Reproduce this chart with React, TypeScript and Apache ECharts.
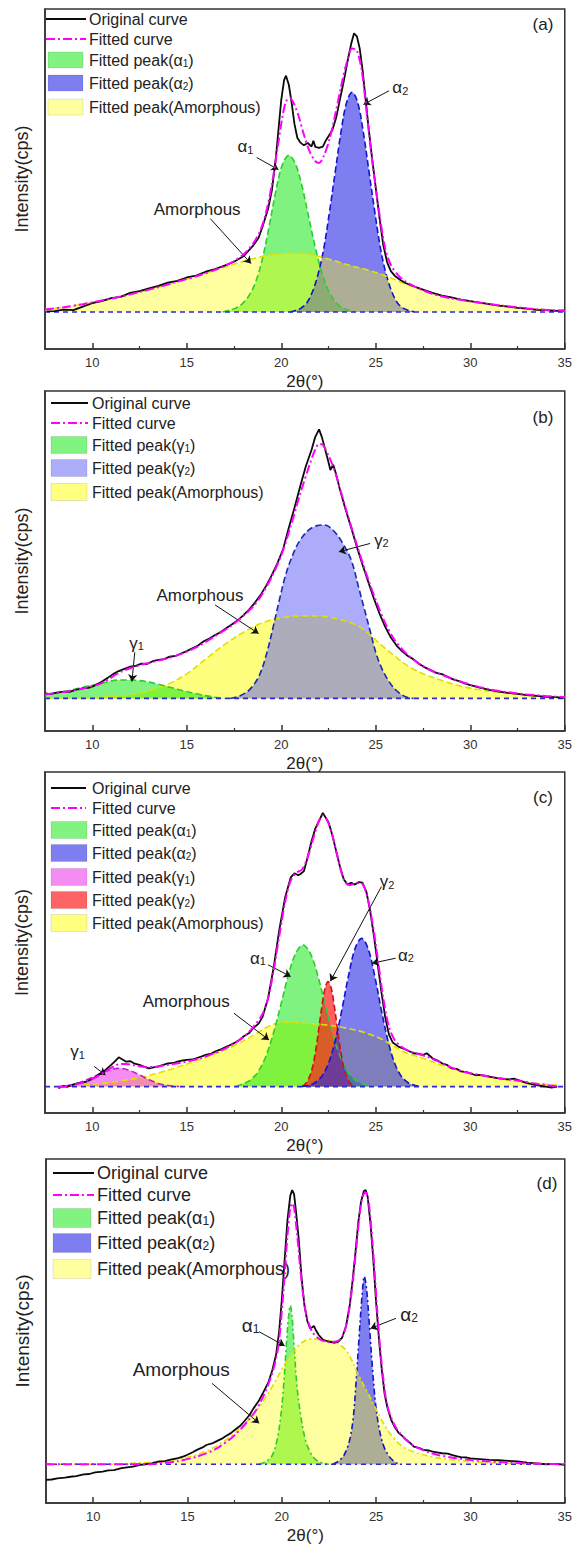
import React, { useEffect, useRef } from 'react';
import * as echarts from 'echarts';

type P = [number, number];

const xTicks = [10, 15, 20, 25, 30, 35];
const xMinorTicks = [12.5, 17.5, 22.5, 27.5, 32.5];
const baseline: P[] = [[7.5, 0], [35, 0]];

// ---------- Panel (a) ----------
const aOriginal: P[] = [[7.6,0.2],[8,0.3],[8.5,0.8],[9,0.6],[9.5,1.8],[10,2.9],[10.5,3.6],[11,4.6],[11.5,5],[12,6.3],[12.5,6.9],[13,7.8],[13.5,8.6],[14,9.7],[14.5,10.3],[15,11.4],[15.5,12],[16,13.3],[16.5,14.2],[17,15.3],[17.5,16.6],[18,18.4],[18.5,21.8],[18.8,24.5],[19,28],[19.3,34],[19.5,40],[19.7,50],[19.85,60],[20,70],[20.15,76.5],[20.25,78],[20.4,75],[20.55,69],[20.7,62],[20.85,57.5],[21,56],[21.2,55],[21.4,55.8],[21.6,54.6],[21.7,56.5],[21.8,54.5],[22,54.2],[22.2,54.6],[22.35,56.5],[22.5,58],[22.7,60],[22.9,64],[23.1,70],[23.3,76],[23.5,82.5],[23.7,88.5],[23.85,92],[24,91],[24.15,87],[24.3,80],[24.45,71],[24.6,62],[24.8,51],[25,41],[25.2,31],[25.4,22],[25.6,16.5],[25.8,13.5],[26,12],[26.3,10.6],[26.6,9.5],[27,8.5],[27.5,7.4],[28,6.3],[28.5,5.4],[29,4.8],[29.5,4.1],[30,3.6],[30.5,3.1],[31,2.6],[31.5,2.1],[32,1.8],[32.5,1.4],[33,1.1],[33.5,0.7],[34,0.6],[34.5,0.4],[35,0.5]];
const aFitted: P[] = [[7.5,0.8],[8.5,1.6],[9.5,2.6],[10.5,3.8],[11.5,5.1],[12.5,6.6],[13.5,8.2],[14.5,10],[15.5,11.8],[16.5,13.9],[17.5,16.8],[18,19],[18.5,22.5],[18.9,27],[19.2,33],[19.5,42],[19.8,54],[20.05,64],[20.25,69.5],[20.45,70.6],[20.65,69],[20.9,65],[21.2,58.5],[21.5,53],[21.8,49.8],[22,49.2],[22.25,51.5],[22.55,57],[22.85,65],[23.15,74],[23.45,82],[23.75,87],[24,86.2],[24.25,80],[24.5,67],[24.75,53],[25,41],[25.25,30],[25.5,21],[25.8,15.5],[26.2,12],[26.6,10],[27.2,8],[28,6],[29,4.5],[30,3.5],[31,2.6],[32,1.9],[33,1.2],[34,0.7],[35,0.4]];
const aAlpha1: P[] = [[16.9,0],[17.25,0.6],[17.6,1.3],[17.95,2.8],[18.3,5.5],[18.65,10],[19,17.5],[19.35,28],[19.7,39.5],[20.05,48.5],[20.4,51.7],[20.75,48.9],[21.1,41.5],[21.45,31.4],[21.8,21.3],[22.15,12.9],[22.5,7],[22.85,3.4],[23.2,1.5],[23.55,0.6],[23.9,0]];
const aAlpha2: P[] = [[20.45,0],[20.75,0.5],[21.05,1.3],[21.35,3],[21.65,6.7],[21.95,12.5],[22.25,21],[22.55,33],[22.85,46],[23.15,59],[23.45,69],[23.75,72.5],[24.05,69],[24.35,59],[24.65,46],[24.95,33],[25.25,21],[25.55,12.5],[25.85,6.7],[26.15,3],[26.45,1.3],[26.75,0.5],[27.05,0]];
const aAmorphous: P[] = [[7.5,0.8],[8.5,1.6],[9.5,2.6],[10.5,3.8],[11.5,5.1],[12.5,6.6],[13.5,8.2],[14.5,10],[15.5,11.8],[16.5,13.8],[17.5,15.8],[18.5,17.6],[19.5,18.9],[20.5,19.4],[21.5,19],[22.5,17.5],[23.5,15.6],[24.5,14],[25.5,12],[26.5,9.4],[27.5,7.2],[28.5,5.4],[29.5,4.1],[30.5,3.1],[31.5,2.3],[32.5,1.6],[33.5,1],[34.5,0.6],[35,0.4]];
const aArrows = [[18.7,51,19.85,47],[25.7,73,24.35,68.5],[16.25,30.8,18.4,16]];
const aNotes: [string, number, number][] = [['α{s|1}',18.1,54.5],['α{s|2}',26.3,74],['Amorphous',15.55,34]];

// ---------- Panel (b) ----------
const bOriginal: P[] = [[7.5,1.6],[7.8,1.4],[8.1,1.9],[8.5,2.2],[8.8,2.1],[9.1,2.8],[9.5,3.3],[9.8,3.4],[10.1,4.1],[10.5,5.4],[10.8,6.6],[11.1,7.9],[11.4,8.9],[11.7,9.6],[12,10.3],[12.3,10.6],[12.6,11.3],[12.9,11.2],[13.2,12.1],[13.5,12.5],[13.8,12.8],[14.1,13.6],[14.4,13.8],[14.7,14.6],[15,15.4],[15.3,16.3],[15.6,17.2],[15.9,18.6],[16.2,19.5],[16.5,20.6],[16.8,21.6],[17.1,22.9],[17.4,24.1],[17.7,25.4],[18,27.1],[18.3,28.9],[18.6,31.1],[18.9,33.6],[19.2,36.6],[19.5,40.1],[19.8,44],[20.1,48.6],[20.4,55.5],[20.7,62],[21,68.9],[21.3,75.5],[21.6,80.8],[21.8,85.1],[22,87.5],[22.15,85],[22.3,81.5],[22.45,78],[22.6,74.3],[22.75,76],[22.9,73],[23.1,68],[23.4,61.5],[23.7,55.5],[24,49.3],[24.3,43.5],[24.6,38],[24.9,32.5],[25.2,27.6],[25.5,23.3],[25.8,19.8],[26.1,17.2],[26.4,15.3],[26.7,13.8],[27,12.7],[27.3,11.2],[27.6,10.1],[27.9,9.2],[28.2,8.3],[28.5,7.9],[28.8,7],[29.1,6.2],[29.4,5.6],[29.7,4.9],[30,4.3],[30.5,3.5],[31,2.8],[31.5,2.2],[32,1.8],[32.5,1.5],[33,1.1],[33.5,0.8],[34,0.5],[34.5,0.4],[35,0.2]];
const bFitted: P[] = [[7.5,1.3],[8.5,2.1],[9.5,3.2],[10.5,5],[11.5,8.6],[12.5,10.8],[13.5,12.3],[14.5,14],[15.5,16.6],[16.5,20.3],[17.5,24.3],[18.5,29.8],[19,34],[19.5,39.6],[20,46.5],[20.5,56],[21,66.5],[21.5,76],[21.8,81],[22,82.8],[22.2,82.5],[22.5,79],[22.8,74.5],[23,70.5],[23.5,60],[24,50],[24.5,40.5],[25,32],[25.5,24.5],[26,19],[26.5,15.3],[27,12.6],[27.5,10.5],[28,8.9],[29,6.5],[30,4.5],[31,3],[32,2],[33,1.3],[34,0.8],[35,0.4]];
const bGamma1: P[] = [[7.5,1.2],[8.5,2.2],[9.5,3.6],[10.5,5],[11.5,6],[12.5,5.8],[13.5,4.6],[14.5,3],[15.5,1.5],[16.5,0.4],[17,0]];
const bGamma2: P[] = [[17.3,0],[17.8,0.8],[18.3,2.7],[18.8,7],[19.2,14],[19.6,24],[19.9,32],[20.2,39.5],[20.5,45],[20.9,50.5],[21.4,54.5],[21.9,56.2],[22.3,56.4],[22.7,55],[23.2,51],[23.7,45],[24.1,36],[24.4,29],[24.7,22],[25,15],[25.3,10],[25.7,5.5],[26.1,2.5],[26.6,0.5],[27,0]];
const bAmorphous: P[] = [[7.5,0],[10,0.3],[11,0.6],[12,1.2],[13,2.5],[14,4.6],[15,8],[16,12.8],[17,17.5],[18,21.5],[19,24.6],[20,26.2],[21,26.8],[22,26.8],[23,25.8],[24,23.8],[24.5,21.7],[25,19],[25.5,16.3],[26,13.8],[26.5,11.4],[27,9.5],[27.5,8],[28.5,5.8],[29.5,4],[30.5,2.8],[31.5,2],[32.5,1.4],[33.5,0.9],[35,0.3]];
const bArrows = [[12.25,15,12.1,5.5],[24.7,50.4,23.05,47.7],[16.5,30.4,18.8,21.1]];
const bNotes: [string, number, number][] = [['γ{s|1}',12.35,18],['γ{s|2}',25.3,51.5],['Amorphous',15.7,33.6]];

// ---------- Panel (c) ----------
const cOriginal: P[] = [[8.2,-0.5],[8.5,0.2],[8.7,0],[9,0.6],[9.2,1],[9.5,1.3],[9.7,1.6],[10,2.4],[10.2,3.2],[10.5,4.4],[10.7,5.3],[11,6.9],[11.2,8],[11.4,9.3],[11.6,8.6],[11.8,7.9],[12,8.1],[12.2,7.4],[12.5,6.9],[12.8,6.2],[13,5.8],[13.3,6.2],[13.5,6.4],[13.8,7],[14,7.4],[14.3,7.5],[14.5,7.9],[14.8,8.3],[15,8.5],[15.3,8.6],[15.5,9],[15.8,9.6],[16,10.1],[16.3,10.5],[16.5,11.1],[16.8,11.8],[17,12.4],[17.3,13.2],[17.5,13.8],[17.8,14.9],[18,15.9],[18.3,17],[18.5,18.5],[18.8,20],[19,22],[19.3,28],[19.6,38],[19.9,50],[20.2,60],[20.5,66.5],[20.7,67.8],[20.9,67.2],[21,67.5],[21.2,68.5],[21.4,73],[21.6,78],[21.8,82],[22,84.5],[22.2,87],[22.35,85.5],[22.5,84],[22.7,80],[22.9,75],[23.1,70],[23.3,66],[23.5,64.2],[23.7,64.8],[23.9,64.2],[24.1,65],[24.3,64.8],[24.5,62],[24.7,56],[24.9,48],[25.1,39],[25.3,30],[25.5,22],[25.7,16.5],[25.9,14],[26.2,12.7],[26.6,11.7],[27,10.6],[27.3,10.4],[27.5,10.1],[27.7,10.6],[28,9],[28.3,8.2],[28.5,7.4],[28.8,6.8],[29,5.8],[29.3,5.6],[29.5,4.8],[29.8,4.6],[30,4.2],[30.3,3.6],[30.5,3.7],[31,3.2],[31.5,2.6],[32,2.3],[32.3,2.5],[32.5,2.1],[33,1.1],[33.5,0.5],[34,0],[34.3,-0.3],[34.6,0]];
const cFitted: P[] = [[8.2,-0.3],[8.7,0.2],[9.2,0.8],[9.7,1.7],[10.2,3],[10.7,4.8],[11.2,6.6],[11.5,7.2],[11.8,7.2],[12.2,6.8],[12.7,6.3],[13.2,6.2],[13.7,6.6],[14.2,7.1],[14.7,7.6],[15.2,8.2],[15.7,9],[16.2,10],[16.7,11.2],[17.2,12.6],[17.7,14.4],[18.2,16.8],[18.6,19.5],[19,23],[19.3,28],[19.6,37],[19.9,48],[20.2,58.5],[20.5,65.5],[20.8,68],[21.1,69],[21.4,73],[21.7,79],[22,84.5],[22.2,86.2],[22.4,85],[22.7,80],[23,72.5],[23.3,66],[23.6,64],[23.9,64.5],[24.2,64.8],[24.5,61.5],[24.8,53],[25.1,41],[25.4,28],[25.7,19],[26,14.8],[26.4,12.5],[26.8,11.2],[27.3,10.3],[27.8,9.3],[28.3,8],[28.8,6.6],[29.3,5.4],[29.8,4.5],[30.5,3.7],[31.5,2.7],[32.5,1.9],[33.5,0.9],[34.6,0.1]];
const cAlpha1: P[] = [[17.6,0],[17.95,0.8],[18.35,2],[18.75,4.5],[19.15,9.1],[19.55,16.2],[19.95,25.3],[20.35,34.9],[20.75,42.2],[21.15,45],[21.55,42.2],[21.95,34.9],[22.35,25.3],[22.75,16.2],[23.15,9.1],[23.55,4.5],[23.95,2],[24.35,0.8],[24.7,0]];
const cAlpha2: P[] = [[21.1,0],[21.45,0.4],[21.8,1.3],[22.15,3.3],[22.5,7.4],[22.85,14.5],[23.2,24.2],[23.55,35],[23.9,43.8],[24.25,47.1],[24.6,43.8],[24.95,35],[25.3,24.2],[25.65,14.5],[26,7.4],[26.35,3.3],[26.7,1.3],[27.05,0.4],[27.4,0]];
const cGamma1: P[] = [[8.2,0],[8.6,0.3],[9.2,1],[9.8,2.4],[10.4,4],[10.9,5.3],[11.4,5.8],[11.9,5.3],[12.4,4],[13,2.2],[13.6,0.8],[14.2,0.2],[14.6,0]];
const cGamma2: P[] = [[21.1,0],[21.28,0.9],[21.43,2.2],[21.58,4.5],[21.73,8.3],[21.88,13.7],[22.03,20.3],[22.18,26.7],[22.33,31.6],[22.48,33.4],[22.63,31.6],[22.78,26.7],[22.93,20.3],[23.08,13.7],[23.23,8.3],[23.38,4.5],[23.53,2.2],[23.68,0.9],[23.9,0]];
const cAmorphous: P[] = [[8.5,0],[9.5,0.5],[10.5,1],[11.5,1.8],[12.5,2.8],[13.5,4.3],[14.5,6.2],[15.5,8.2],[16.5,10.4],[17.5,13],[18.5,16.2],[19.3,19],[19.9,20.3],[20.5,20.4],[21.5,20],[22.5,19.5],[23.5,18.5],[24.5,17],[25.5,14.5],[26.5,11],[27.5,9],[28.5,6.8],[29.5,5],[30.5,3.6],[31.5,2.5],[32.5,1.7],[33.5,1],[34.6,0.4]];
const cArrows = [[10.1,6.4,10.7,3.7],[19.3,38.7,20.5,35],[25.3,63.6,22.6,33.5],[26.05,40.8,24.8,39.2],[17.5,23.3,19.35,14.8]];
const cNotes: [string, number, number][] = [['γ{s|1}',9.22,11.1],['α{s|1}',18.77,40.8],['γ{s|2}',25.6,65.1],['α{s|2}',26.6,41.8],['Amorphous',14.97,27]];

// ---------- Panel (d) ----------
const dOriginal: P[] = [[7.5,-5.1],[7.8,-5],[8.1,-4.6],[8.5,-4.4],[8.8,-4.1],[9.1,-3.9],[9.5,-3.3],[9.8,-3.2],[10.1,-2.7],[10.5,-2.4],[10.8,-2],[11.1,-1.9],[11.5,-1.3],[11.8,-1],[12.1,-0.8],[12.5,-0.2],[12.8,0],[13.1,0.3],[13.5,0.9],[13.8,1],[14.1,1.5],[14.5,2],[14.8,2.6],[15,3.1],[15.3,4],[15.5,4.7],[15.8,5.5],[16,6.3],[16.3,6.8],[16.5,7.4],[16.8,8.3],[17,9.1],[17.3,10.2],[17.5,11.2],[17.8,12.6],[18,14],[18.3,16.2],[18.5,18.3],[18.8,21],[19,23.3],[19.3,27],[19.5,30.9],[19.7,36],[19.85,43],[20,53.8],[20.15,67],[20.3,80],[20.45,88],[20.55,89.8],[20.65,88.5],[20.75,83],[20.9,73.5],[21.05,61],[21.2,52],[21.35,47],[21.5,44.5],[21.6,44.8],[21.7,45.3],[21.8,44],[21.95,42.4],[22.2,40.7],[22.5,40.2],[22.8,39.8],[23,40.2],[23.2,41.5],[23.4,45.1],[23.6,52],[23.75,60],[23.9,69.1],[24.05,79],[24.2,86],[24.35,89.5],[24.45,89.8],[24.55,87.7],[24.7,78.9],[24.85,67],[25,53],[25.15,41],[25.3,30.9],[25.45,23],[25.6,18.5],[25.8,14.5],[26,12],[26.2,10.2],[26.4,9.2],[26.6,8],[26.8,7],[27,5.8],[27.3,5.3],[27.5,4.7],[27.8,4.5],[28,4.1],[28.3,3.8],[28.5,3.6],[28.8,3.5],[29,3.1],[29.3,2.6],[29.5,2.3],[29.8,2.2],[30,1.9],[30.5,1.7],[31,1.4],[31.5,1.3],[32,1.1],[32.5,0.9],[33,0.5],[33.5,0.3],[34,0],[34.5,0.1],[35,-0.2]];
const dFitted: P[] = [[7.5,0],[13,0],[13.5,0.3],[14.5,1],[15.5,2.5],[16.5,5],[17.5,9.5],[18.5,16.5],[19,22],[19.5,30],[19.8,38],[20,50],[20.15,62],[20.3,75],[20.45,84],[20.55,85.5],[20.65,84],[20.8,76],[20.95,66],[21.1,57],[21.3,49],[21.6,43.5],[22,41],[22.5,40],[23,40.5],[23.3,43],[23.55,50],[23.75,59],[23.95,71],[24.15,83],[24.3,88],[24.45,89],[24.6,86],[24.75,77],[24.9,65],[25.05,51],[25.2,39],[25.4,27],[25.6,19],[26,12.5],[26.5,8.5],[27,6],[28,3.5],[29,2.2],[30,1.4],[31,0.9],[32,0.6],[33,0.3],[34,0.1],[35,0]];
const dAlpha1: P[] = [[18.8,0],[19.2,1],[19.5,3],[19.75,8],[19.95,16],[20.1,26],[20.25,40],[20.35,48],[20.45,52],[20.55,48],[20.65,39],[20.8,26],[21,16],[21.25,8],[21.5,4],[21.8,1.5],[22.2,0.3],[22.5,0]];
const dAlpha2: P[] = [[22.7,0],[23,1],[23.3,3],[23.6,8],[23.8,16],[23.95,28],[24.1,42],[24.25,55],[24.37,61.5],[24.5,57],[24.65,45],[24.8,32],[24.95,21],[25.15,12],[25.4,6],[25.7,2.5],[26.05,0.5],[26.3,0]];
const dAmorphous: P[] = [[7.5,0],[11,0],[12,0.3],[13,0.6],[14,1.2],[15,2.3],[16,4.3],[17,7.8],[18,13],[18.5,16.5],[19,20.5],[19.5,25.5],[20,31],[20.5,36],[21,39.5],[21.5,41],[22,41],[22.5,40.5],[23,39.5],[23.5,36.5],[24,30],[24.5,24],[25,18],[25.5,12.2],[26,8],[26.5,5.4],[27,4],[28,2.4],[29,1.5],[30,0.9],[31,0.5],[32,0.3],[33,0.1],[35,0]];
const dArrows = [[18.8,43.4,20.15,38.8],[26.05,47.8,24.7,44.5],[16.3,26.5,18.8,13.4]];
const dNotes: [string, number, number][] = [['α{s|1}',18.35,45.6],['α{s|2}',26.75,48.9],['Amorphous',14.67,30.9]];

// ---------- styles ----------
const FONT = '"Liberation Sans", Arial, Helvetica, sans-serif';
const TXT = '#222';
const AX = '#333';
const GREEN = { fill: 'rgba(0,230,0,0.5)', stroke: '#2ecc2e', swatch: '#80f380' };
const BLUE = { fill: 'rgba(40,40,230,0.6)', stroke: '#1414cc', swatch: '#7e7ef0' };
const LAV = { fill: 'rgba(90,90,245,0.5)', stroke: '#1a2ab0', swatch: '#adadfa' };
const YTOP = { fill: 'rgba(255,255,0,0.375)', stroke: '#e0e000', swatch: '#ffffa0' };
const YUND = { fill: 'rgba(255,255,0,0.5)', stroke: '#e0e000', swatch: '#ffff80' };
const PINK = { fill: 'rgba(230,0,230,0.45)', stroke: '#c020c0', swatch: '#f48cf4' };
const RED = { fill: 'rgba(255,30,30,0.7)', stroke: '#d01010', swatch: '#ff6464' };

type Peak = { data: P[]; st: { fill: string; stroke: string; swatch: string }; label: string };

const panels = [
  {
    top: 9, height: 340, left: 45, right: 9, yMin: -12.2, dash: 'dashed' as any,
    original: aOriginal, fitted: aFitted, arrows: aArrows, notes: aNotes, noteSize: 17,
    peaks: [
      { data: aAlpha1, st: GREEN, label: 'Fitted peak(α{s|1})' },
      { data: aAlpha2, st: BLUE, label: 'Fitted peak(α{s|2})' },
      { data: aAmorphous, st: YTOP, label: 'Fitted peak(Amorphous)' },
    ] as Peak[],
    tag: '(a)', tagX: 543, tagY: 24,
    leg: { rows: [19, 39, 60, 83, 107], l0: 46, l1: 86, r0: 48, r1: 83, tx: 89, rh: 16, fs: 16 },
  },
  {
    top: 391, height: 340, left: 45, right: 9, yMin: -10.6, dash: 'dashed' as any,
    original: bOriginal, fitted: bFitted, arrows: bArrows, notes: bNotes, noteSize: 17,
    peaks: [
      { data: bAmorphous, st: YUND, label: 'Fitted peak(Amorphous)' },
      { data: bGamma1, st: GREEN, label: 'Fitted peak(γ{s|1})' },
      { data: bGamma2, st: LAV, label: 'Fitted peak(γ{s|2})' },
    ] as Peak[],
    legendOrder: [1, 2, 0],
    tag: '(b)', tagX: 543, tagY: 417,
    leg: { rows: [403, 423, 445, 468, 492], l0: 51, l1: 88, r0: 51, r1: 87, tx: 92, rh: 17, fs: 16 },
  },
  {
    top: 772, height: 341, left: 45, right: 9, yMin: -8.4, dash: 'dashed' as any,
    original: cOriginal, fitted: cFitted, arrows: cArrows, notes: cNotes, noteSize: 17,
    peaks: [
      { data: cAmorphous, st: YUND, label: 'Fitted peak(Amorphous)' },
      { data: cGamma1, st: PINK, label: 'Fitted peak(γ{s|1})' },
      { data: cAlpha1, st: GREEN, label: 'Fitted peak(α{s|1})' },
      { data: cGamma2, st: RED, label: 'Fitted peak(γ{s|2})' },
      { data: cAlpha2, st: BLUE, label: 'Fitted peak(α{s|2})' },
    ] as Peak[],
    legendOrder: [2, 4, 1, 3, 0],
    tag: '(c)', tagX: 543, tagY: 797,
    leg: { rows: [788, 808, 830, 853, 877, 900, 923], l0: 51, l1: 86, r0: 51, r1: 87, tx: 92, rh: 17, fs: 16 },
  },
  {
    top: 1159, height: 344, left: 46, right: 6, yMin: -12.7, dash: [6, 3, 2, 3] as any,
    original: dOriginal, fitted: dFitted, arrows: dArrows, notes: dNotes, noteSize: 19,
    peaks: [
      { data: dAlpha1, st: GREEN, label: 'Fitted peak(α{s|1})' },
      { data: dAlpha2, st: BLUE, label: 'Fitted peak(α{s|2})' },
      { data: dAmorphous, st: YTOP, label: 'Fitted peak(Amorphous)' },
    ] as Peak[],
    tag: '(d)', tagX: 547, tagY: 1183,
    leg: { rows: [1173, 1195, 1218, 1243, 1269], l0: 53, l1: 94, r0: 53, r1: 91, tx: 97, rh: 19, fs: 18 },
  },
];

function buildOption() {
  const grid: any[] = [];
  const xAxis: any[] = [];
  const yAxis: any[] = [];
  const series: any[] = [];
  const graphic: any[] = [];

  panels.forEach((p, i) => {
    grid.push({ left: p.left, right: p.right, top: p.top, height: p.height, show: true, borderColor: AX, borderWidth: 1.5, backgroundColor: 'transparent', containLabel: false });
    xAxis.push({
      type: 'value', gridIndex: i, min: 7.5, max: 35,
      name: '2θ(°)', nameLocation: 'middle', nameGap: 24,
      nameTextStyle: { fontSize: 17, color: TXT, fontFamily: FONT },
      axisLine: { show: true, onZero: false, lineStyle: { color: AX, width: 1.5 } },
      axisTick: { show: true, inside: true, length: 6, customValues: xTicks, lineStyle: { color: AX, width: 1.5 } },
      axisLabel: { show: true, customValues: xTicks, fontSize: 13, color: '#333', margin: 7, fontFamily: FONT },
      splitLine: { show: false },
    });
    xAxis.push({
      type: 'value', gridIndex: i, min: 7.5, max: 35, position: 'bottom',
      axisLine: { show: false, onZero: false },
      axisTick: { show: true, inside: true, length: 3, customValues: xMinorTicks, lineStyle: { color: AX, width: 1.2 } },
      axisLabel: { show: false },
      splitLine: { show: false },
    });
    yAxis.push({
      type: 'value', gridIndex: i, min: p.yMin, max: 100,
      name: 'Intensity(cps)', nameLocation: 'middle', nameGap: 14, nameRotate: 90,
      nameTextStyle: { fontSize: i === 3 ? 19 : 18, color: TXT, fontFamily: FONT },
      axisLine: { show: true, onZero: false, lineStyle: { color: AX, width: 1.5 } },
      axisTick: { show: false }, axisLabel: { show: false }, splitLine: { show: false },
    });
    const xi = 2 * i;
    p.peaks.forEach((pk) => {
      series.push({
        type: 'line', name: pk.label, xAxisIndex: xi, yAxisIndex: i, data: pk.data,
        smooth: 0.35, symbol: 'none', silent: true,
        lineStyle: { color: pk.st.stroke, width: 1.6, type: p.dash },
        areaStyle: { color: pk.st.fill, opacity: 1 },
      });
    });
    series.push({
      type: 'line', name: 'baseline', xAxisIndex: xi, yAxisIndex: i, data: baseline,
      symbol: 'none', silent: true, z: 3,
      lineStyle: { color: '#2a2ad8', width: 1.6, type: i === 3 ? [5, 4, 2, 4] : [5, 4] },
    });
    series.push({
      type: 'line', name: 'Original curve', xAxisIndex: xi, yAxisIndex: i, data: p.original,
      symbol: 'none', silent: true, z: 4, lineStyle: { color: '#0a0a0a', width: 1.8 },
    });
    series.push({
      type: 'line', name: 'Fitted curve', xAxisIndex: xi, yAxisIndex: i, data: p.fitted,
      symbol: 'none', silent: true, z: 5, smooth: 0.3,
      lineStyle: { color: '#ff00ff', width: 2, type: [9, 3, 2, 3] },
      markLine: {
        silent: true, symbol: ['none', 'arrow'], symbolSize: 7, animation: false,
        lineStyle: { color: '#111', width: 1, type: 'solid' },
        label: { show: false }, emphasis: { disabled: true },
        data: p.arrows.map((a) => [{ coord: [a[0], a[1]] }, { coord: [a[2], a[3]] }]),
      },
      markPoint: {
        silent: true, symbol: 'rect', symbolSize: 1, itemStyle: { color: 'rgba(0,0,0,0)' },
        label: {
          show: true, position: 'inside', color: TXT, fontSize: p.noteSize, fontFamily: FONT,
          formatter: (q: any) => q.name,
          rich: { s: { fontSize: Math.round(p.noteSize * 0.65), lineHeight: 8, verticalAlign: 'bottom', color: TXT, fontFamily: FONT } },
        },
        data: p.notes.map((n) => ({ name: n[0], coord: [n[1], n[2]] })),
      },
    });

    // legend (drawn as graphics)
    const L = p.leg;
    const rich = { s: { fontSize: Math.round(L.fs * 0.65), lineHeight: 8, verticalAlign: 'bottom', fill: TXT, fontFamily: FONT } };
    const items: any[] = [
      { kind: 'line', color: '#0a0a0a', dash: null, text: 'Original curve' },
      { kind: 'line', color: '#ff00ff', dash: [9, 3, 2, 3], text: 'Fitted curve' },
    ];
    const order: number[] = (p as any).legendOrder || p.peaks.map((_, k) => k);
    order.forEach((k) => items.push({ kind: 'rect', color: p.peaks[k].st.swatch, text: p.peaks[k].label }));
    items.forEach((it, r) => {
      const y = L.rows[r];
      if (it.kind === 'line') {
        graphic.push({ type: 'line', z: 1, silent: true, shape: { x1: L.l0, y1: y, x2: L.l1, y2: y }, style: { stroke: it.color, lineWidth: 2, lineDash: it.dash || undefined } });
      } else {
        graphic.push({ type: 'rect', z: 1, silent: true, shape: { x: L.r0, y: y - L.rh / 2, width: L.r1 - L.r0, height: L.rh }, style: { fill: it.color, stroke: 'rgba(0,0,0,0.12)', lineWidth: 0.8 } });
      }
      graphic.push({ type: 'text', z: 1, silent: true, x: L.tx, y, style: { text: it.text, fill: TXT, fontSize: L.fs, fontFamily: FONT, verticalAlign: 'middle', align: 'left', rich } });
    });
    graphic.push({ type: 'text', z: 1, silent: true, x: p.tagX, y: p.tagY, style: { text: p.tag, fill: TXT, fontSize: 17, fontFamily: FONT, align: 'center', verticalAlign: 'middle' } });
  });

  return { animation: false, backgroundColor: '#fff', grid, xAxis, yAxis, series, graphic };
}

export default function App() {
  const ref = useRef<HTMLDivElement>(null);
  useEffect(() => {
    if (!ref.current) return;
    const chart = echarts.init(ref.current, null, { renderer: 'svg' });
    chart.setOption(buildOption() as any);
    return () => chart.dispose();
  }, []);
  return <div ref={ref} style={{ position: 'absolute', left: 0, top: 0, width: 575, height: 1549, background: '#fff' }} />;
}
